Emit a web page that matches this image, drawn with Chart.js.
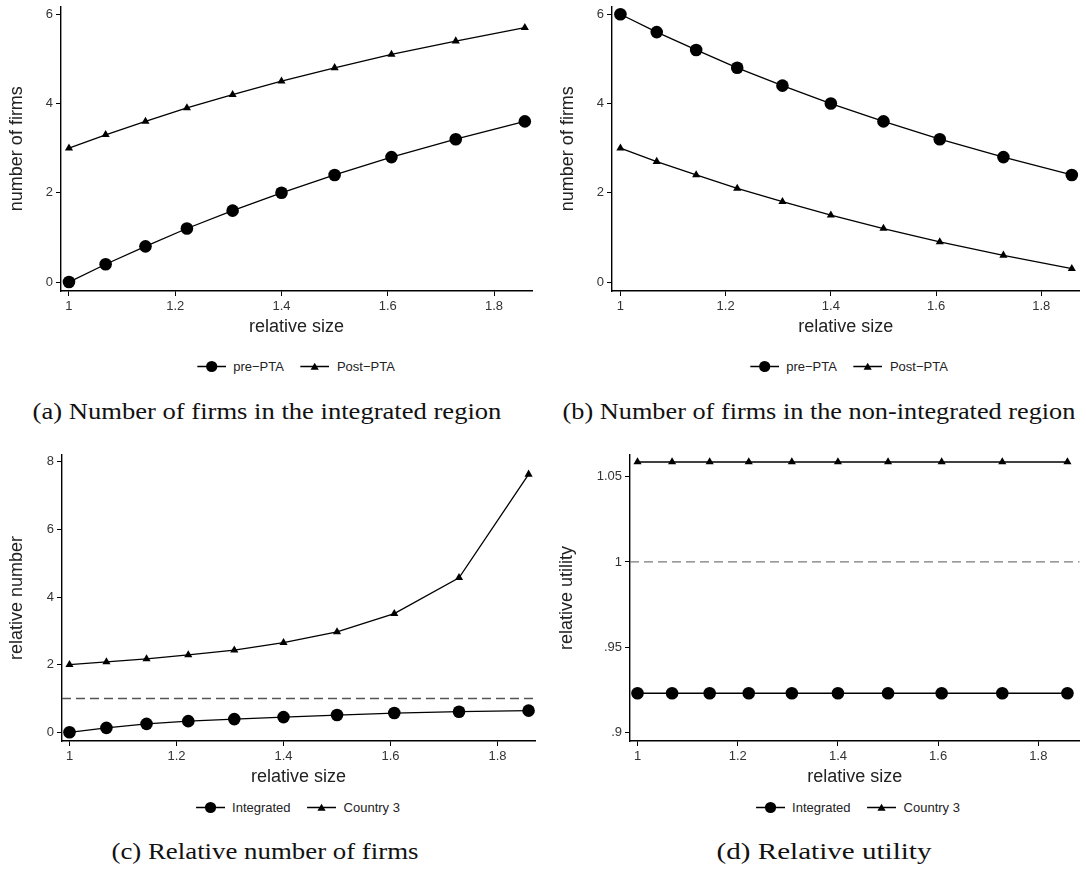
<!DOCTYPE html>
<html>
<head>
<meta charset="utf-8">
<script src="https://cdn.jsdelivr.net/npm/chart.js@4.4.0/dist/chart.umd.min.js"></script>
<style>
  body { margin: 0; background: #fff; width: 1086px; height: 880px; position: relative; overflow: hidden;
         font-family: "Liberation Sans", Arial, sans-serif; }
  canvas { position: absolute; }
  .leg { position: absolute; font-size: 13px; color: #222; white-space: nowrap;
         transform: translate(-50%, -50%); display: flex; align-items: center; }
  .leg svg { display: block; }
  .cap { position: absolute; font-family: "Liberation Serif", serif; font-size: 23px; color: #111;
         white-space: nowrap; }
</style>
</head>
<body>
<canvas id="pa" width="545" height="338" style="left:0;top:0"></canvas>
<canvas id="pb" width="541" height="338" style="left:545px;top:0"></canvas>
<canvas id="pc" width="545" height="348" style="left:0;top:440px"></canvas>
<canvas id="pd" width="541" height="348" style="left:545px;top:440px"></canvas>

<div class="leg" id="la" style="left:296px;top:366px"></div>
<div class="leg" id="lb" style="left:849px;top:366px"></div>
<div class="leg" id="lc" style="left:298px;top:807px"></div>
<div class="leg" id="ld" style="left:858px;top:807px"></div>

<div class="cap" data-w="469" style="left:267px;top:412px">(a) Number of firms in the integrated region</div>
<div class="cap" data-w="513" style="left:819px;top:412px">(b) Number of firms in the non-integrated region</div>
<div class="cap" data-w="307" style="left:265px;top:852px">(c) Relative number of firms</div>
<div class="cap" data-w="215" style="left:824px;top:852px">(d) Relative utility</div>

<script>
// valeurs
const relSize = [1, 1.069, 1.144, 1.222, 1.308, 1.4, 1.5, 1.607, 1.728, 1.858];

const preIntegrated  = [0, 0.4, 0.8, 1.2, 1.6, 2.0, 2.4, 2.8, 3.2, 3.6];
const postIntegrated = [3.0, 3.3, 3.6, 3.9, 4.2, 4.5, 4.8, 5.1, 5.4, 5.7];

const preNonIntegrated  = [6.0, 5.6, 5.2, 4.8, 4.4, 4.0, 3.6, 3.2, 2.8, 2.4];
const postNonIntegrated = [3.0, 2.7, 2.4, 2.1, 1.8, 1.5, 1.2, 0.9, 0.6, 0.3];

const relNumIntegrated = [0, 0.13, 0.25, 0.33, 0.39, 0.45, 0.51, 0.57, 0.61, 0.64];
const relNumCountry3   = [2.0, 2.08, 2.17, 2.29, 2.43, 2.65, 2.97, 3.51, 4.57, 7.63];

const relUtilIntegrated = [0.923, 0.923, 0.923, 0.923, 0.923, 0.923, 0.923, 0.923, 0.923, 0.923];
const relUtilCountry3   = [1.0586, 1.0586, 1.0586, 1.0586, 1.0586, 1.0586, 1.0586, 1.0586, 1.0586, 1.0586];

const refLevel = 1;

const xTicks = [1, 1.2, 1.4, 1.6, 1.8];
const xTickLabels = ['1', '1.2', '1.4', '1.6', '1.8'];
const firmsTicks = [0, 2, 4, 6];
const firmsTickLabels = ['0', '2', '4', '6'];
const relNumTicks = [0, 2, 4, 6, 8];
const relNumTickLabels = ['0', '2', '4', '6', '8'];
const utilTicks = [0.9, 0.95, 1, 1.05];
const utilTickLabels = ['.9', '.95', '1', '1.05'];

const legendAB = ['pre\u2212PTA', 'Post\u2212PTA'];
const legendCD = ['Integrated', 'Country 3'];

Chart.defaults.font.family = '"Liberation Sans", Arial, sans-serif';

function pts(ys) {
  return ys.map((y, i) => ({ x: relSize[i], y: y }));
}

function serie(ys, style) {
  return {
    data: pts(ys),
    borderColor: '#000',
    backgroundColor: '#000',
    borderWidth: 1.3,
    pointStyle: style,
    pointRadius: style === 'circle' ? 6.3 : 4.7,
    pointBorderWidth: 0,
    tension: 0,
    clip: false
  };
}

function refLine(x0, x1, color) {
  return {
    data: [{ x: x0, y: refLevel }, { x: x1, y: refLevel }],
    borderColor: color,
    borderWidth: 1.3,
    borderDash: [9, 5],
    pointRadius: 0
  };
}

// box = canvas (page coords), area = plot region (page coords)
function panel(id, box, area, xr, yr, yt, ytl, yTitle, yTitleX, datasets) {
  const lh = 18 * 1.2;
  new Chart(document.getElementById(id), {
    type: 'line',
    data: { datasets: datasets },
    options: {
      responsive: false,
      animation: false,
      events: [],
      layout: { padding: { left: 0, top: area.t - box.top, right: box.left + box.w - area.r, bottom: 0 } },
      plugins: { legend: { display: false }, tooltip: { enabled: false } },
      scales: {
        x: {
          type: 'linear', min: xr[0], max: xr[1],
          grid: { display: true, drawOnChartArea: false, drawTicks: true, tickLength: 5, color: '#000', lineWidth: 1 },
          border: { display: true, color: '#000', width: 1.4 },
          ticks: { font: { size: 13 }, color: '#333', padding: 3, autoSkip: false, maxRotation: 0,
                   callback: (v, i) => xTickLabels[i] },
          title: { display: true, text: 'relative size', font: { size: 18 }, color: '#222', padding: { top: 0, bottom: 0 } },
          afterBuildTicks: s => { s.ticks = xTicks.map(v => ({ value: v })); },
          afterFit: s => { s.height = box.top + box.h - area.b; s.paddingLeft = 0; s.paddingRight = 0; }
        },
        y: {
          type: 'linear', min: yr[0], max: yr[1],
          grid: { display: true, drawOnChartArea: false, drawTicks: true, tickLength: 5, color: '#000', lineWidth: 1 },
          border: { display: true, color: '#000', width: 1.4 },
          ticks: { font: { size: 13 }, color: '#333', padding: 3, autoSkip: false,
                   callback: (v, i) => ytl[i] },
          title: { display: true, text: yTitle, font: { size: 18 }, color: '#222',
                   padding: { top: yTitleX - box.left - lh / 2, bottom: 0 } },
          afterBuildTicks: s => { s.ticks = yt.map(v => ({ value: v })); },
          afterFit: s => { s.width = area.l - box.left; s.paddingTop = 0; s.paddingBottom = 0; }
        }
      }
    }
  });
}

panel('pa', { left: 0, top: 0, w: 545, h: 338 }, { l: 61, r: 532, t: 4, b: 291 },
  [0.985, 1.8715], [-0.2, 6.178], firmsTicks, firmsTickLabels, 'number of firms', 17,
  [serie(preIntegrated, 'circle'), serie(postIntegrated, 'triangle')]);

panel('pb', { left: 545, top: 0, w: 541, h: 338 }, { l: 612, r: 1086, t: 4, b: 291 },
  [0.984, 1.873], [-0.2, 6.178], firmsTicks, firmsTickLabels, 'number of firms', 568,
  [serie(preNonIntegrated, 'circle'), serie(postNonIntegrated, 'triangle')]);

panel('pc', { left: 0, top: 440, w: 545, h: 348 }, { l: 62, r: 535, t: 455, b: 741 },
  [0.986, 1.87], [-0.257, 8.2], relNumTicks, relNumTickLabels, 'relative number', 17,
  [serie(relNumIntegrated, 'circle'), serie(relNumCountry3, 'triangle'), refLine(0.986, 1.87, '#555')]);

panel('pd', { left: 545, top: 440, w: 541, h: 348 }, { l: 630, r: 1086, t: 455, b: 741 },
  [0.985, 1.8825], [0.895, 1.0627], utilTicks, utilTickLabels, 'relative utility', 567,
  [serie(relUtilIntegrated, 'circle'), serie(relUtilCountry3, 'triangle'), refLine(0.985, 1.8825, '#7a7a7a')]);

// légendes façon Stata : trait + marqueur
function symbol(kind) {
  const m = kind === 'circle'
    ? '<circle cx="14.5" cy="7" r="5.6" fill="#000"/>'
    : '<polygon points="14.5,3.2 18.6,10.2 10.4,10.2" fill="#000"/>';
  return '<svg width="29" height="14"><line x1="0" y1="7" x2="29" y2="7" stroke="#000" stroke-width="1.3"/>' + m + '</svg>';
}
function legend(id, names) {
  document.getElementById(id).innerHTML =
    symbol('circle') + '<span style="margin-left:7px">' + names[0] + '</span>' +
    '<span style="width:16px"></span>' +
    symbol('triangle') + '<span style="margin-left:8px">' + names[1] + '</span>';
}
legend('la', legendAB);
legend('lb', legendAB);
legend('lc', legendCD);
legend('ld', legendCD);

// légendes des sous-figures : largeur ajustée sur celle du document
document.querySelectorAll('.cap').forEach(el => {
  const w = el.getBoundingClientRect().width;
  const k = (+el.dataset.w) / w;
  el.style.transform = 'translate(-50%, -50%) scaleX(' + k.toFixed(3) + ')';
});
</script>
</body>
</html>
